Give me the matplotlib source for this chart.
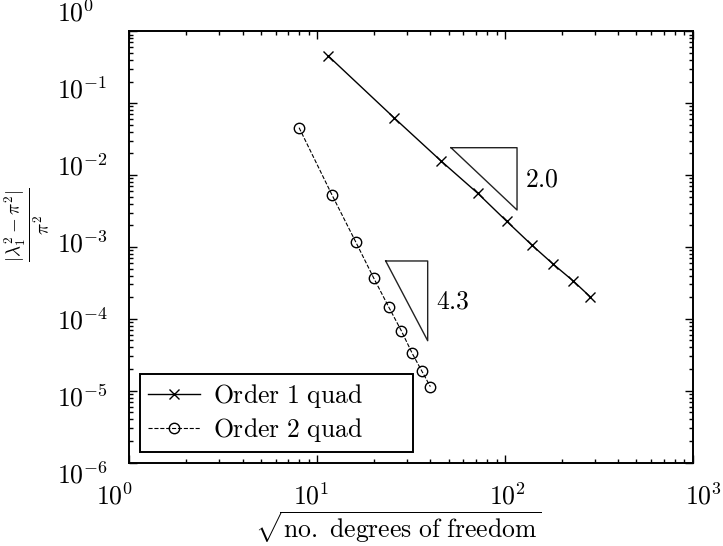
import numpy as np
import matplotlib
matplotlib.use('Agg')
import matplotlib.pyplot as plt
from matplotlib.ticker import LogLocator, NullFormatter

plt.rcParams['mathtext.fontset'] = 'cm'
plt.rcParams['font.family'] = ['DejaVu Serif']

# data
order1_x = [11.45, 25.6, 45.6, 71.5, 102.0, 138.6, 180.6, 230.7, 283.2]
order1_err = [0.453, 0.0628, 0.01568, 0.00557, 0.00227, 0.001063, 0.000573, 0.000335, 0.000203]
order2_x = [8, 12, 16, 20, 24, 28, 32, 36, 40]
order2_err = [0.0456, 0.00523, 0.001181, 0.000366, 0.0001459, 6.83e-5, 3.31e-5, 1.877e-5, 1.135e-5]

# slope triangles: [x_left, x_right], [y_top, y_bottom], label
tri1_x = [51.5, 115.7]
tri1_y = [0.024, 0.003263]
tri1_label = '2.0'
tri2_x = [23.13, 38.7]
tri2_y = [6.37e-4, 4.95e-5]
tri2_label = '4.3'

xticks = [1e0, 1e1, 1e2, 1e3]
yticks = [1e-6, 1e-5, 1e-4, 1e-3, 1e-2, 1e-1, 1e0]

FS = 18.5

fig = plt.figure(figsize=(7.23, 5.46), dpi=100)
ax = fig.add_axes([0.179, 0.1529, 0.9585 - 0.179, 0.9427 - 0.1529])
ax.set_xscale('log')
ax.set_yscale('log')
ax.set_xlim(1, 1000)
ax.set_ylim(1e-6, 1)

ax.plot(order1_x, order1_err, 'k-', marker='x', ms=7.5, mew=1.0, lw=1.0,
        label=r'$\mathrm{Order\ 1\ quad}$')
ax.plot(order2_x, order2_err, 'k--', marker='o', ms=7.5, mew=1.0, lw=0.8,
        mfc='none', label=r'$\mathrm{Order\ 2\ quad}$')

for tx, ty, lab in [(tri1_x, tri1_y, tri1_label), (tri2_x, tri2_y, tri2_label)]:
    ax.plot([tx[0], tx[1], tx[1], tx[0]], [ty[0], ty[0], ty[1], ty[0]],
            color='#222222', lw=1.0)
    ax.annotate(r'$%s$' % lab, xy=(tx[1], np.sqrt(ty[0] * ty[1])),
                xytext=(6, 0), textcoords='offset points',
                ha='left', va='center', fontsize=FS)

# ticks inside on every side, labels drawn separately
ax.xaxis.set_major_locator(LogLocator(base=10, numticks=10))
ax.yaxis.set_major_locator(LogLocator(base=10, numticks=10))
ax.xaxis.set_minor_locator(LogLocator(base=10, subs=np.arange(2, 10), numticks=100))
ax.yaxis.set_minor_locator(LogLocator(base=10, subs=np.arange(2, 10), numticks=100))
ax.xaxis.set_minor_formatter(NullFormatter())
ax.yaxis.set_minor_formatter(NullFormatter())
ax.tick_params(which='both', direction='in', top=True, right=True,
               labelbottom=False, labelleft=False, width=1.0)
ax.tick_params(which='major', length=6)
ax.tick_params(which='minor', length=3)
for s in ax.spines.values():
    s.set_linewidth(1.4)

# tick labels, placed like in the reference
for t in xticks:
    f = np.log10(t) / 3.0
    ax.text(-0.0257 + 1.0435 * f, -0.079, r'$10^{%d}$' % np.log10(t),
            transform=ax.transAxes, ha='center', va='center', fontsize=FS)
for t in yticks:
    f = (np.log10(t) + 6) / 6.0
    ax.text(-0.1287, -0.029 + 1.070 * f, r'$10^{%d}$' % np.log10(t),
            transform=ax.transAxes, ha='left', va='center', fontsize=FS)

ax.text(0.4774, -0.174, r'$\sqrt{\mathrm{no.\ degrees\ of\ freedom}}$',
        transform=ax.transAxes, ha='center', va='baseline', fontsize=FS)
ax.text(-0.182, 0.551, r'$\frac{|\lambda_1^2-\pi^2|}{\pi^2}$',
        transform=ax.transAxes, ha='center', va='center', rotation=90,
        fontsize=19.5)

leg = ax.legend(loc='lower left', bbox_to_anchor=(0.0186, 0.025, 0.484, 0.2),
                mode='expand', borderaxespad=0, fontsize=FS, numpoints=1,
                fancybox=False, framealpha=1, edgecolor='black',
                handlelength=2.05, handletextpad=0.5, labelspacing=0.25,
                borderpad=0.3)
leg.get_frame().set_linewidth(1.4)

fig.savefig('out.png', dpi=100)
